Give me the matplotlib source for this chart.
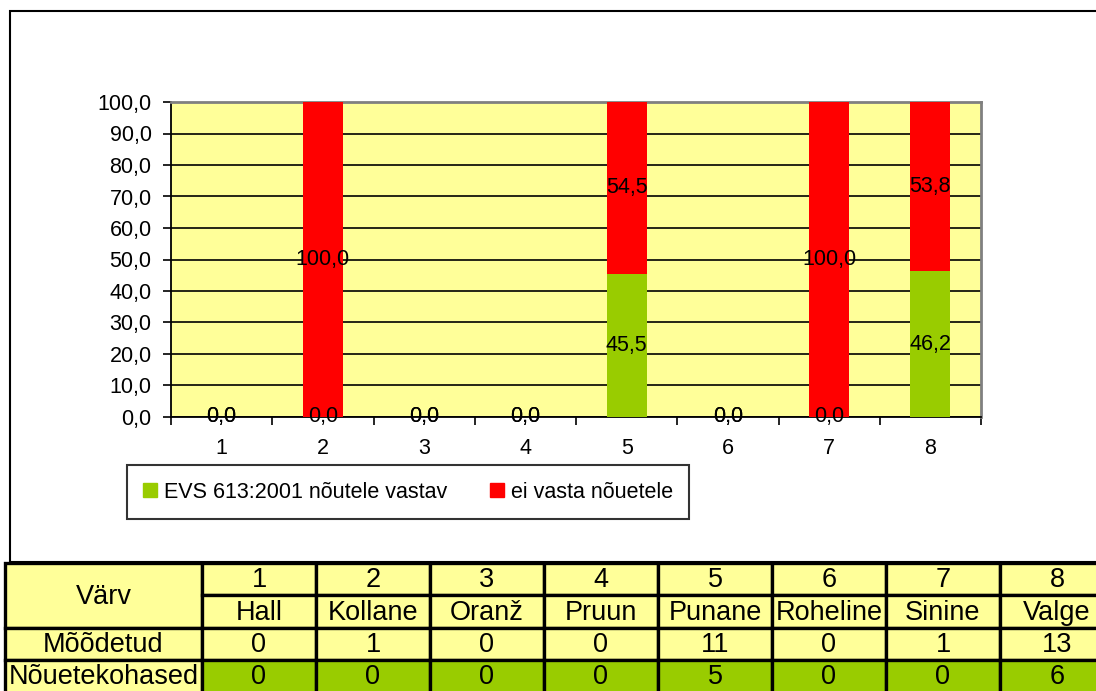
import matplotlib
matplotlib.use('Agg')
import matplotlib.pyplot as plt
from matplotlib.patches import Rectangle, Patch
from matplotlib.ticker import FuncFormatter, FixedLocator, NullFormatter

plt.rcParams['font.family'] = ['Liberation Sans', 'DejaVu Sans']

# ---------------- data ----------------
categories = ['1', '2', '3', '4', '5', '6', '7', '8']
colour_names = ['Hall', 'Kollane', 'Oranž', 'Pruun', 'Punane', 'Roheline', 'Sinine', 'Valge']
compliant_pct = [0.0, 0.0, 0.0, 0.0, 45.5, 0.0, 0.0, 46.2]
noncompliant_pct = [0.0, 100.0, 0.0, 0.0, 54.5, 0.0, 100.0, 53.8]
measured = [0, 1, 0, 0, 11, 0, 1, 13]
compliant_n = [0, 0, 0, 0, 5, 0, 0, 6]
series_names = ['EVS 613:2001 nõutele vastav', 'ei vasta nõuetele']
row_labels = ['Värv', 'Mõõdetud', 'Nõuetekohased']
y_ticks = [0, 10, 20, 30, 40, 50, 60, 70, 80, 90, 100]

# ---------------- style ----------------
YELLOW = '#FFFF99'
GREEN = '#99CC00'
RED = '#FF0000'
FS = 15.5
TFS = 19.5

W, H = 1096, 691
fig = plt.figure(figsize=(W / 100, H / 100), dpi=100)


def fx(px):
    return px / W


def fy(py):
    return 1 - py / H


def comma(v):
    return f'{v:.1f}'.replace('.', ',')


# outer chart border
fig.patches.append(Rectangle((fx(10), fy(562)), fx(1100) - fx(10), fy(11) - fy(562),
                             transform=fig.transFigure, fill=False, ec='black', lw=1.5))

# ---------------- chart ----------------
ax = fig.add_axes([fx(171), fy(417), fx(981) - fx(171), (417 - 102) / H])
ax.set_facecolor(YELLOW)
xs = list(range(1, len(categories) + 1))
bw = 0.395
ax.bar(xs, compliant_pct, width=bw, color=GREEN, zorder=3)
ax.bar(xs, noncompliant_pct, bottom=compliant_pct, width=bw, color=RED, zorder=3)

for x, g, r in zip(xs, compliant_pct, noncompliant_pct):
    ax.text(x, g / 2, comma(g), ha='center', va='center', fontsize=FS, zorder=5)
    ax.text(x, g + r / 2, comma(r), ha='center', va='center', fontsize=FS, zorder=5)

ax.set_xlim(0.5, len(categories) + 0.5)
ax.set_ylim(0, 100)
ax.set_yticks(y_ticks)
ax.yaxis.set_major_formatter(FuncFormatter(lambda v, p: comma(v)))
ax.tick_params(axis='y', length=6, width=1.2, pad=8, labelsize=FS)

ax.xaxis.set_major_locator(FixedLocator([i + 0.5 for i in range(len(categories) + 1)]))
ax.xaxis.set_major_formatter(NullFormatter())
ax.xaxis.set_minor_locator(FixedLocator(xs))
ax.set_xticklabels(categories, minor=True)
ax.tick_params(axis='x', which='major', length=6, width=1.2)
ax.tick_params(axis='x', which='minor', length=0, pad=15, labelsize=FS)

ax.set_axisbelow(True)
ax.grid(axis='y', color='black', lw=1.2)
for s in ['left', 'bottom']:
    ax.spines[s].set_color('black')
    ax.spines[s].set_linewidth(1.3)
for s in ['top', 'right']:
    ax.spines[s].set_color('#808080')
    ax.spines[s].set_linewidth(2)

leg = fig.legend(handles=[Patch(color=GREEN, label=series_names[0]),
                          Patch(color=RED, label=series_names[1])],
                 loc='center', bbox_to_anchor=(fx(408), fy(492)), ncol=2,
                 frameon=True, fancybox=False, edgecolor='black', fontsize=FS,
                 handlelength=0.65, handleheight=0.65, handletextpad=0.3,
                 columnspacing=2.0, borderpad=0.75)
leg.get_frame().set_linewidth(1.5)

# ---------------- data table ----------------
tax = fig.add_axes([fx(5), fy(693), fx(1114) - fx(5), (693 - 563) / H])
tax.set_xlim(0, 1109)
tax.set_ylim(130, 0)
tax.axis('off')

first_w = 197
col_w = 114
col_edges = [0, first_w] + [first_w + col_w * k for k in range(1, len(categories) + 1)]
row_edges = [0, 32, 65, 97, 130]
LW = 2.4


def cell(x0, x1, y0, y1, fc, text):
    tax.add_patch(Rectangle((x0, y0), x1 - x0, y1 - y0, fc=fc, ec='black', lw=LW,
                            clip_on=False, zorder=1))
    tax.text((x0 + x1) / 2, (y0 + y1) / 2 + 1, text, ha='center', va='center',
             fontsize=TFS, clip_on=False, zorder=2)


cell(col_edges[0], col_edges[1], row_edges[0], row_edges[2], YELLOW, row_labels[0])
cell(col_edges[0], col_edges[1], row_edges[2], row_edges[3], YELLOW, row_labels[1])
cell(col_edges[0], col_edges[1], row_edges[3], row_edges[4], YELLOW, row_labels[2])
for i in range(len(categories)):
    x0, x1 = col_edges[i + 1], col_edges[i + 2]
    cell(x0, x1, row_edges[0], row_edges[1], YELLOW, categories[i])
    cell(x0, x1, row_edges[1], row_edges[2], YELLOW, colour_names[i])
    cell(x0, x1, row_edges[2], row_edges[3], YELLOW, str(measured[i]))
    cell(x0, x1, row_edges[3], row_edges[4], GREEN, str(compliant_n[i]))

fig.savefig('out.png', dpi=100)
